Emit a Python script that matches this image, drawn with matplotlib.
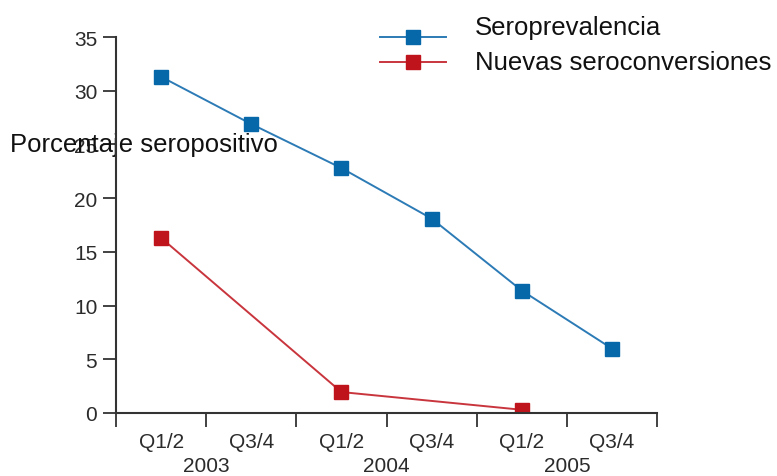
import matplotlib
matplotlib.use("Agg")
import matplotlib.pyplot as plt
from matplotlib.lines import Line2D
from matplotlib.transforms import blended_transform_factory

# data
periods = ["Q1/2", "Q3/4", "Q1/2", "Q3/4", "Q1/2", "Q3/4"]
years = ["2003", "2004", "2005"]
seroprev_x = [0.5, 1.5, 2.5, 3.5, 4.5, 5.5]
seroprev = [31.3, 26.9, 22.8, 18.1, 11.4, 6.0]
nuevas_x = [0.5, 2.5, 4.5]
nuevas = [16.3, 1.95, 0.3]

blue_line = "#2c7bb6"
blue_mark = "#0768a9"
red_line = "#c9353d"
red_mark = "#c0141d"
axis_col = "#333333"

plt.rcParams["font.family"] = ["Liberation Sans", "DejaVu Sans"]

fig = plt.figure(figsize=(7.77, 4.77), dpi=100)
ax = fig.add_axes([116 / 777, 1 - 414 / 477, 541 / 777, 376 / 477])

ax.plot(seroprev_x, seroprev, color=blue_line, lw=1.4, marker="s", ms=10,
        mfc=blue_mark, mec=blue_mark)
ax.plot(nuevas_x, nuevas, color=red_line, lw=1.4, marker="s", ms=10,
        mfc=red_mark, mec=red_mark)

ax.set_xlim(0, 6)
ax.set_ylim(0, 35)
ax.set_yticks(range(0, 36, 5))
ax.set_xticks(range(0, 7))
ax.set_xticklabels([])
ax.set_xticks(seroprev_x, minor=True)
ax.set_xticklabels(periods, minor=True)

for s in ["top", "right"]:
    ax.spines[s].set_visible(False)
for s in ["left", "bottom"]:
    ax.spines[s].set_color(axis_col)
    ax.spines[s].set_linewidth(1.5)

ax.tick_params(axis="y", which="major", length=9.5, width=1.3, color=axis_col,
               labelsize=15, labelcolor="#2b2b2b", pad=4)
ax.tick_params(axis="x", which="major", length=10, width=1.3, color=axis_col)
ax.tick_params(axis="x", which="minor", length=0, labelsize=15,
               labelcolor="#2b2b2b", pad=14)

trans = blended_transform_factory(ax.transData, fig.transFigure)
for i, yr in enumerate(years):
    ax.text(2 * i + 1, 1 - 467 / 477, yr, transform=trans, ha="center",
            va="center", fontsize=15, color="#2b2b2b")

ax.set_ylabel("Porcentaje seropositivo", rotation=0, ha="left", va="baseline",
              fontsize=18.5, color="#111111")
ax.yaxis.set_label_coords(-0.196, 0.697)

# legend drawn by hand to keep its layout
leg = [("Seroprevalencia", blue_line, blue_mark, 38, 35),
       ("Nuevas seroconversiones", red_line, red_mark, 63, 70)]
for label, lc, mc, ypix, base in leg:
    yf = 1 - ypix / 477
    fig.add_artist(Line2D([380 / 777, 413 / 777, 446 / 777], [yf, yf, yf],
                          color=lc, lw=1.4, marker="s", ms=10, mfc=mc, mec=mc,
                          markevery=[1]))
    fig.text(475 / 777, 1 - base / 477, label, ha="left", va="baseline",
             fontsize=18.5, color="#111111")

fig.savefig("out.png", dpi=100)
